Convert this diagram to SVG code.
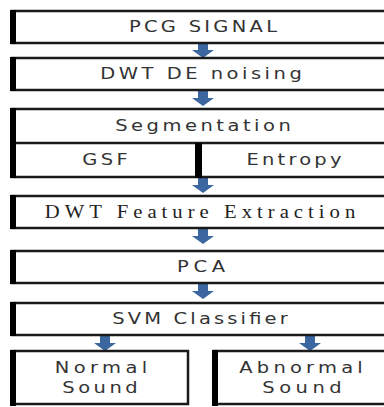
<svg xmlns="http://www.w3.org/2000/svg" width="384" height="407" viewBox="0 0 384 407">
<defs>
<style>
.box{fill:#fff;stroke:#1a1a1a;stroke-width:2.5}
.lb{fill:#000}
.t{font-family:"DejaVu Sans","Liberation Sans",sans-serif;font-size:15px;fill:#333;text-anchor:middle;dominant-baseline:central}
.s{font-family:"Liberation Serif","DejaVu Serif",serif;font-size:18px;fill:#222;text-anchor:middle;dominant-baseline:central}
.arr{fill:#3b66a0}
</style>
<path id="ar" d="M-5,0 H5 V7 H11 L0,15 L-11,7 H-5 Z"/>
</defs>
<g id="connectors" class="arr">
<use href="#ar" x="203" y="43"/>
<use href="#ar" x="203" y="91"/>
<use href="#ar" x="203" y="178"/>
<use href="#ar" x="203" y="229"/>
<use href="#ar" x="203" y="284"/>
<use href="#ar" x="105" y="336"/>
<use href="#ar" x="310" y="336"/>
</g>
<g id="pcg">
<rect class="box" x="12" y="11" width="380" height="32"/>
<rect class="lb" x="10" y="10" width="6" height="34"/>
<text class="t" transform="translate(203 27) scale(1.3 1)" textLength="114" lengthAdjust="spacing">PCG SIGNAL</text>
</g>
<g id="dwt-denoise">
<rect class="box" x="12" y="58" width="380" height="32"/>
<rect class="lb" x="10" y="57" width="6" height="34"/>
<text class="t" transform="translate(201 74) scale(1.3 1)" textLength="155" lengthAdjust="spacing">DWT DE noising</text>
</g>
<g id="segmentation">
<rect class="box" x="12" y="109" width="380" height="68"/>
<line x1="12" y1="143" x2="392" y2="143" stroke="#1a1a1a" stroke-width="2.5"/>
<rect class="lb" x="195" y="143" width="7" height="35"/>
<rect class="lb" x="10" y="108" width="6" height="70"/>
<text class="t" transform="translate(203 126) scale(1.3 1)" textLength="135" lengthAdjust="spacing">Segmentation</text>
</g>
<g id="gsf">
<text class="t" transform="translate(105 160) scale(1.3 1)" textLength="35" lengthAdjust="spacing">GSF</text>
</g>
<g id="entropy">
<text class="t" transform="translate(294 160) scale(1.3 1)" textLength="73" lengthAdjust="spacing">Entropy</text>
</g>
<g id="dwt-feature">
<rect class="box" x="12" y="196" width="380" height="32"/>
<rect class="lb" x="10" y="195" width="6" height="34"/>
<text class="s" transform="translate(200 212) scale(1.15 1)" textLength="270" lengthAdjust="spacing">DWT Feature Extraction</text>
</g>
<g id="pca">
<rect class="box" x="12" y="251" width="380" height="32"/>
<rect class="lb" x="10" y="250" width="6" height="34"/>
<text class="t" transform="translate(201 267) scale(1.3 1)" textLength="37" lengthAdjust="spacing">PCA</text>
</g>
<g id="svm">
<rect class="box" x="12" y="303" width="380" height="32"/>
<rect class="lb" x="10" y="302" width="6" height="34"/>
<text class="t" transform="translate(200 319) scale(1.3 1)" textLength="135" lengthAdjust="spacing">SVM Classifier</text>
</g>
<g id="normal">
<rect class="box" x="12" y="351" width="176" height="53" stroke-width="4"/>
<rect class="lb" x="10" y="350" width="6" height="56"/>
<text class="t" transform="translate(101 368) scale(1.3 1)" textLength="71" lengthAdjust="spacing">Normal</text>
<text class="t" transform="translate(100 388) scale(1.3 1)" textLength="58" lengthAdjust="spacing">Sound</text>
</g>
<g id="abnormal">
<rect class="box" x="214" y="351" width="180" height="53" stroke-width="4"/>
<rect class="lb" x="212" y="350" width="6" height="56"/>
<text class="t" transform="translate(301 368) scale(1.3 1)" textLength="95" lengthAdjust="spacing">Abnormal</text>
<text class="t" transform="translate(302 388) scale(1.3 1)" textLength="61" lengthAdjust="spacing">Sound</text>
</g>
</svg>
